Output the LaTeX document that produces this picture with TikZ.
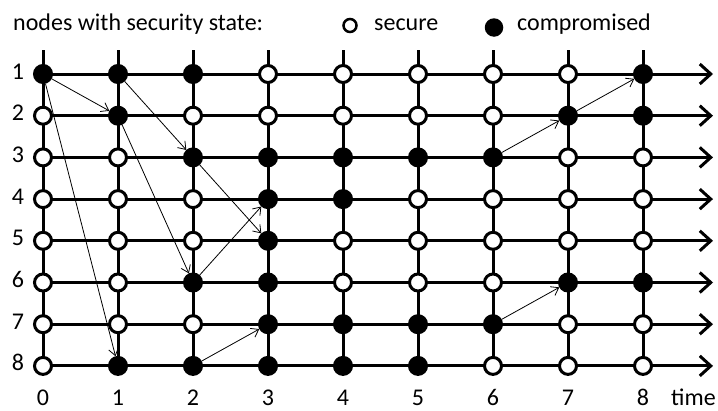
\documentclass[tikz,border=0pt]{standalone}
\usepackage{fontspec}
\setmainfont{Carlito}
\usetikzlibrary{arrows.meta}
\begin{document}
\begin{tikzpicture}[x=1pt,y=-1pt,
  font=\fontsize{24}{28}\selectfont,
  gridline/.style={line width=3pt},
  timeline/.style={line width=3pt,-{Straight Barb[length=11pt,width=20pt]}},
  st/.style={circle,draw,line width=3pt,minimum size=17pt,inner sep=0pt},
  s0/.style={st,fill=white},
  s1/.style={st,fill=black},
  attack/.style={line width=0.8pt,-{Straight Barb[length=7pt,width=10pt]}},
  lbl/.style={inner sep=0pt,anchor=base}]
\useasboundingbox (0,0) rectangle (718,410);
\fill[white] (0,0) rectangle (718,410);
% grid coordinates
\foreach \c in {0,...,8}
  \foreach \r in {1,...,8}
    \coordinate (p\c-\r) at ({43+75*\c},{74+41.7*(\r-1)});
% vertical lines
\foreach \c in {0,...,8} {
  \coordinate (top\c) at ({43+75*\c},50);
  \draw[gridline] (top\c) -- (p\c-8);
}
% horizontal time lines
\foreach \r in {1,...,8} {
  \coordinate (end\r) at (713,{74+41.7*(\r-1)});
  \draw[timeline] (p0-\r) -- (end\r);
}
% node states
\foreach \s [count=\c from 0] in {1,1,1,0,0,0,0,0,1} \node[s\s] (n\c-1) at (p\c-1) {};
\foreach \s [count=\c from 0] in {0,1,0,0,0,0,0,1,1} \node[s\s] (n\c-2) at (p\c-2) {};
\foreach \s [count=\c from 0] in {0,0,1,1,1,1,1,0,0} \node[s\s] (n\c-3) at (p\c-3) {};
\foreach \s [count=\c from 0] in {0,0,0,1,1,0,0,0,0} \node[s\s] (n\c-4) at (p\c-4) {};
\foreach \s [count=\c from 0] in {0,0,0,1,0,0,0,0,0} \node[s\s] (n\c-5) at (p\c-5) {};
\foreach \s [count=\c from 0] in {0,0,1,1,0,0,0,1,1} \node[s\s] (n\c-6) at (p\c-6) {};
\foreach \s [count=\c from 0] in {0,0,0,1,1,1,1,0,0} \node[s\s] (n\c-7) at (p\c-7) {};
\foreach \s [count=\c from 0] in {0,1,1,1,1,1,0,0,0} \node[s\s] (n\c-8) at (p\c-8) {};
% attack arrows
\draw[attack] (n0-1) -- (n1-2);
\draw[attack] (n0-1) -- (n1-8);
\draw[attack] (n1-1) -- (n2-3);
\draw[attack] (n1-2) -- (n2-6);
\draw[attack] (n2-3) -- (n3-5);
\draw[attack] (n2-6) -- (n3-4);
\draw[attack] (n2-8) -- (n3-7);
\draw[attack] (n6-3) -- (n7-2);
\draw[attack] (n7-2) -- (n8-1);
\draw[attack] (n6-7) -- (n7-6);
% labels
\foreach \r in {1,...,8}
  \node[lbl] (row\r) at (18,{74+41.7*(\r-1)+5}) {\r};
\foreach \c in {0,...,8}
  \node[lbl] (col\c) at ({43+75*\c},405) {\c};
\node[lbl,anchor=base west] (time) at (671,405) {time};
% legend
\node[lbl,anchor=base west] (legtitle) at (13,30) {nodes with security state:};
\node[circle,draw,line width=2.5pt,minimum size=13pt,inner sep=0pt] (legsec) at (350,25.5) {};
\node[lbl,anchor=base west] (legsectxt) at (374,30) {secure};
\node[circle,fill=black,minimum size=18.5pt,inner sep=0pt] (legcomp) at (494,27.5) {};
\node[lbl,anchor=base west] (legcomptxt) at (517,30) {compromised};
\end{tikzpicture}
\end{document}
